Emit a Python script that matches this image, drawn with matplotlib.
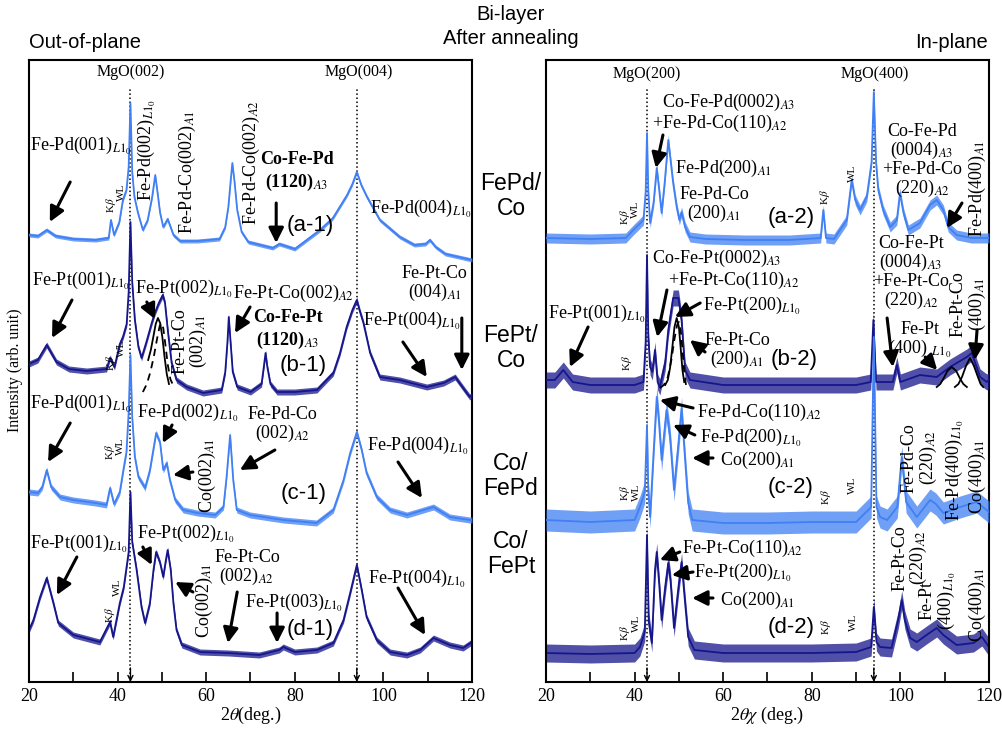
#
# XRD patterns of bi-layer films after annealing
# out-of-plane (left) and in-plane (right)
#

import numpy as np
from matplotlib import pyplot as plt

plt.rcParams['font.family'] = ['Liberation Serif', 'DejaVu Serif']
plt.rcParams['mathtext.fontset'] = 'stix'

LIGHT = '#4080f4'
NAVY = '#16168c'
SANS = ['Liberation Sans', 'DejaVu Sans']

# subscripts
L10 = r'$_{\mathit{L}1_0}$'
A1 = r'$_{\mathit{A}1}$'
A2 = r'$_{\mathit{A}2}$'
A3 = r'$_{\mathit{A}3}$'

# ---- out-of-plane, 2theta (deg.) and intensity (arb. unit, stacked) ----
a1_x = [20, 22, 24, 26, 30, 35, 38.0, 38.5, 39.2, 40.4, 41.2, 42.0, 42.5, 42.9, 43.3,
        43.8, 44.6, 45.7, 46.8, 47.8, 48.5, 49.0, 49.6, 50.3, 51.3, 52.6, 54.1, 58, 63, 64.3,
        65.0, 65.5, 65.9, 66.4, 67.0, 68.0, 69.5, 75, 76.5, 80, 85.7, 88.6, 91.8, 93.0, 94.0,
        95.0, 96.3, 99.2, 103.7, 107, 109.5, 110.5, 111.8, 114, 117, 120]
a1_y = [447, 446, 452, 446, 443, 442, 444, 462, 447, 460, 482, 492, 515, 579, 510,
        485, 469, 452, 462, 485, 507, 490, 469, 455, 463, 447, 441, 441, 443, 455,
        475, 500, 519, 500, 472, 450, 440, 434, 438, 433, 452, 464, 487, 498, 510,
        497, 485, 462, 445, 437, 438, 442, 435, 428, 425, 422]

b1_x = [20, 22, 24, 26.2, 29, 33, 37.5, 38.3, 39.3, 40.5, 41.2, 42.05, 42.5, 42.9, 43.3,
        43.9, 44.7, 45.4, 46.5, 47.7, 48.4, 49.3, 50.2, 50.7, 51.4, 52.2, 53.3, 55.6, 59.3, 63.5,
        64.3, 64.8, 65.1, 65.5, 66.0, 67.0, 70, 72.5, 73.0, 73.4, 73.8, 74.5, 76, 80, 85,
        88.7, 90.2, 91.7, 93.0, 94.0, 94.6, 95.5, 97.0, 99.2, 103.7, 109.8, 113.6, 116.2, 118.0, 119.5,
        120]
b1_y = [318, 322, 337, 320, 313, 311, 313, 324, 315, 338, 345, 358, 390, 460, 400,
        362, 335, 324, 340, 359, 369, 379, 387, 379, 349, 319, 302, 295, 289, 292,
        310, 340, 365, 340, 310, 295, 290, 298, 315, 329, 315, 298, 290, 290, 292,
        309, 329, 355, 372, 382, 372, 359, 329, 305, 302, 295, 299, 305, 294, 285,
        287]

c1_x = [20, 22, 23, 24, 25, 27, 30, 35, 37.5, 38.3, 39.2, 40.5, 41.3, 42.0, 42.5,
        42.9, 43.3, 43.9, 44.7, 46.2, 47.3, 48.7, 49.6, 50.3, 51.1, 51.8, 53.0, 54.8, 58, 62,
        63.9, 64.6, 65.4, 66.1, 66.9, 69.9, 77.4, 84.9, 88.7, 91.0, 92.5, 94.0, 95.1, 96.2, 98.5,
        101.5, 105.3, 111.3, 115.0, 119.5, 120]
c1_y = [190, 189, 195, 212, 195, 185, 182, 179, 177, 194, 178, 190, 212, 230, 270,
        327, 265, 225, 205, 194, 212, 249, 239, 212, 219, 202, 182, 172, 169, 167,
        175, 205, 247, 202, 172, 167, 162, 159, 172, 202, 229, 250, 232, 209, 185,
        172, 167, 175, 165, 162, 162]

d1_x = [20, 21, 22.5, 24.0, 25.5, 26.6, 30, 36, 38.3, 39.0, 40.5, 41.4, 42.5, 42.9, 43.3,
        44.3, 45.4, 46.2, 47.3, 48.1, 48.7, 49.6, 50.3, 50.9, 51.3, 52.0, 52.6, 53.3, 54.5, 58.6,
        65, 72, 76.5, 77.4, 80, 85, 88.7, 91.0, 92.5, 94.0, 95.1, 96.2, 98.5, 101.5, 105.3,
        108.3, 111.3, 115.0, 118.0, 120]
d1_y = [52, 62, 85, 104, 79, 59, 47, 40, 60, 45, 79, 95, 130, 190, 140,
        112, 75, 59, 79, 112, 130, 119, 105, 122, 132, 112, 79, 52, 37, 30,
        29, 27, 32, 35, 30, 32, 39, 62, 89, 117, 92, 65, 42, 30, 27,
        32, 44, 37, 34, 40]

# peak separation of (b-1) near 50 deg.
b1_fit1_x = [46.9, 47.5, 48.1, 48.6, 49.1, 49.6, 50.1, 50.6, 51.1, 51.6]
b1_fit1_y = [322, 332, 346, 358, 364, 359, 345, 325, 308, 298]
b1_fit2_x = [45.7, 46.6, 47.4, 48.2, 48.9, 49.5, 49.9, 50.3, 50.8, 51.3, 51.9, 52.5]
b1_fit2_y = [290, 298, 310, 326, 343, 356, 359, 354, 337, 318, 303, 297]

# ---- in-plane, 2theta-chi (deg.) ----
a2_x = [20, 30, 38, 39.7, 42.0, 42.5, 42.8, 43.1, 43.5, 44.3, 45.0, 45.6, 46.1, 46.8, 47.6,
        48.7, 49.5, 50.1, 50.6, 51.4, 52.5, 56, 65, 75, 82.0, 82.6, 83.2, 85, 87.9, 89.0,
        89.8, 90.9, 92.4, 93.5, 94.0, 94.5, 95.0, 96.1, 97.7, 99.2, 99.9, 100.7, 101.8, 104.4, 106.7,
        108.2, 109.7, 110.8, 112.7, 116, 120]
a2_y = [444, 443, 444, 452, 462, 490, 549, 490, 459, 480, 514, 490, 469, 500, 542,
        499, 475, 462, 470, 455, 445, 443, 442, 442, 444, 472, 444, 443, 462, 502,
        482, 472, 485, 520, 590, 520, 492, 472, 455, 462, 489, 469, 452, 459, 477,
        482, 472, 455, 447, 444, 444]

b2_x = [20, 22, 23.9, 26, 30, 40, 42.0, 42.5, 42.8, 43.1, 43.5, 44.0, 44.6, 45.2, 45.7,
        46.9, 47.6, 48.7, 49.9, 50.6, 51.4, 52.5, 60, 70, 80, 90, 93.3, 93.9, 94.5, 98.3,
        99.2, 100.0, 104.4, 108.2, 111.2, 115.0, 116.1, 118.0, 119.5, 120]
b2_y = [302, 302, 312, 300, 297, 297, 300, 340, 427, 345, 315, 310, 332, 300, 295,
        319, 352, 384, 384, 362, 312, 302, 297, 297, 297, 297, 300, 362, 300, 300,
        317, 300, 307, 305, 315, 325, 329, 305, 300, 302]

c2_x = [20, 30, 40, 41.2, 42.3, 42.8, 43.1, 43.5, 44.4, 45.0, 45.5, 46.1, 47.2, 48.0, 48.9,
        49.9, 50.6, 51.4, 52.1, 53, 60, 70, 80, 90, 93.4, 94.0, 94.6, 95.4, 97, 99.3,
        100.3, 101.3, 103.7, 106.7, 108, 109.7, 113.5, 117.2, 120]
c2_y = [162, 160, 162, 175, 190, 257, 190, 165, 239, 285, 260, 222, 272, 245, 192,
        239, 274, 222, 179, 162, 159, 159, 160, 160, 175, 345, 175, 165, 162, 175,
        225, 180, 165, 182, 178, 169, 175, 180, 170]

d2_x = [20, 30, 40, 41.2, 42.3, 42.8, 43.2, 43.9, 44.6, 45.0, 45.6, 46.1, 46.9, 47.6, 48.1,
        48.9, 49.9, 50.6, 51.4, 52.1, 53.5, 60, 70, 80, 90, 93.4, 94.0, 94.6, 95.4, 98,
        99.5, 100.3, 101.0, 102.2, 103.7, 105.9, 108.2, 109.7, 112.7, 116.5, 118.4, 120]
d2_y = [29, 28, 29, 35, 50, 147, 60, 39, 112, 130, 95, 62, 95, 119, 102,
        54, 95, 120, 79, 45, 32, 29, 29, 29, 30, 35, 75, 40, 35, 34,
        62, 82, 62, 44, 40, 47, 54, 47, 37, 39, 45, 35]

# peak separation of (b-2)
b2_fit1_x = [46.9, 47.5, 48.0, 48.5, 49.0, 49.5, 50.0, 50.4, 50.8, 51.2]
b2_fit1_y = [297, 302, 314, 334, 355, 364, 355, 334, 312, 300]
b2_fit2_x = [45.7, 46.6, 47.5, 48.3, 49.0, 49.6, 50.0, 50.4, 50.8, 51.2, 51.6]
b2_fit2_y = [294, 297, 305, 322, 343, 357, 360, 352, 333, 310, 297]
b2_fit3_x = [108.2, 109.0, 109.8, 110.6, 111.6, 112.6, 113.4, 114.2, 115.0]
b2_fit3_y = [295, 298, 304, 311, 315, 311, 304, 298, 295]
b2_fit4_x = [112.3, 113.1, 113.9, 114.8, 115.7, 116.6, 117.5, 118.1, 118.7]
b2_fit4_y = [295, 298, 305, 316, 324, 316, 305, 298, 295]

# noise half-width of each scan (same units)
noise = {'a1': 2, 'b1': 3, 'c1': 3, 'd1': 3, 'a2': 5, 'b2': 8, 'c2': 11, 'd2': 9}


def curve(ax, x, y, color, key, z):
    x = np.array(x)
    y = np.array(y)
    n = noise[key]
    ax.fill_between(x, y - n, y + n, color=color, alpha=0.75, lw=0, zorder=z)
    ax.plot(x, y, color=color, lw=1.3, zorder=z + 0.1)


def label(ax, s, x, y, ha='center', rot=0, size=13, **kw):
    ax.text(x, y, s, ha=ha, va='center', rotation=rot, fontsize=size,
            zorder=12, **kw)


def arrow(ax, xt, yt, xh, yh):
    ax.annotate('', xy=(xh, yh), xytext=(xt, yt),
                arrowprops=dict(arrowstyle='-|>,head_length=0.6,head_width=0.3',
                                color='k', lw=2.2, shrinkA=0, shrinkB=0,
                                mutation_scale=15), zorder=12)


def mgo_line(ax, x):
    ax.plot([x, x], [0, 595], ls=':', color='k', lw=1.1, zorder=1)
    ax.annotate('', xy=(x, 0), xytext=(x, 14),
                arrowprops=dict(arrowstyle='->', color='k', lw=1.0,
                                mutation_scale=9, shrinkA=0, shrinkB=0))


def frame(ax, xlabel):
    ax.set_xlim(20, 120)
    ax.set_ylim(0, 622)
    ax.set_yticks([])
    ax.set_xticks(range(20, 121, 20))
    ax.set_xticks(range(30, 120, 20), minor=True)
    ax.tick_params(axis='x', which='both', direction='in', length=7, width=1.2,
                   labelsize=13, pad=4)
    for sp in ax.spines.values():
        sp.set_linewidth(1.5)
    ax.set_xlabel(xlabel, fontsize=13, labelpad=0)


fig = plt.figure(figsize=(10.03, 7.29), dpi=100)
ax1 = fig.add_axes([29 / 1003, 47 / 729, 443 / 1003, 622 / 729])
ax2 = fig.add_axes([546 / 1003, 47 / 729, 443 / 1003, 622 / 729])

# ---------------- out-of-plane ----------------
ax = ax1
curve(ax, d1_x, d1_y, NAVY, 'd1', 2)
curve(ax, b1_x, b1_y, NAVY, 'b1', 3)
curve(ax, c1_x, c1_y, LIGHT, 'c1', 4)
curve(ax, a1_x, a1_y, LIGHT, 'a1', 5)
ax.plot(b1_fit1_x, b1_fit1_y, color='k', lw=1.3, zorder=8)
ax.plot(b1_fit2_x, b1_fit2_y, color='k', lw=1.3, ls=(0, (4, 3)), zorder=8)
mgo_line(ax, 42.9)
mgo_line(ax, 94.0)
label(ax, 'MgO(002)', 43.0, 610, size=11.5)
label(ax, 'MgO(004)', 94.5, 610, size=11.5)

# (a-1)
label(ax, 'Fe-Pd(001)' + L10, 20.2, 537, ha='left')
arrow(ax, 29.3, 500, 24.7, 460)
label(ax, r'K$\beta$', 38.5, 477, rot=90, size=8)
label(ax, 'WL', 40.8, 490, rot=90, size=8)
label(ax, 'Fe-Pd(002)' + L10, 46.6, 532, rot=90)
label(ax, 'Fe-Pd-Co(002)' + A1, 55.7, 510, rot=90)
label(ax, 'Fe-Pd-Co(002)' + A2, 70.3, 520, rot=90)
label(ax, 'Co-Fe-Pd\n(1120)' + A3, 80.5, 510, fontweight='bold', linespacing=1.2)
arrow(ax, 75.8, 479, 75.8, 439)
label(ax, '(a-1)', 83.4, 457, size=16, family=SANS)
label(ax, 'Fe-Pd(004)' + L10, 97.0, 474, ha='left')

# (b-1)
label(ax, 'Fe-Pt(001)' + L10, 20.7, 402, ha='left')
arrow(ax, 29.7, 382, 25.2, 344)
label(ax, r'K$\beta$', 38.5, 319, rot=90, size=8)
label(ax, 'WL', 40.8, 334, rot=90, size=8)
label(ax, 'Fe-Pt(002)' + L10, 43.9, 394, ha='left')
arrow(ax, 46.6, 380, 48.4, 363)
label(ax, 'Fe-Pt-Co\n(002)' + A1, 56.4, 341, rot=90, linespacing=0.9)
label(ax, 'Fe-Pt-Co(002)' + A2, 66.0, 389, ha='left')
arrow(ax, 69.9, 375, 66.5, 349)
label(ax, 'Co-Fe-Pt\n(1120)' + A3, 78.5, 352, fontweight='bold', linespacing=1.2)
label(ax, '(b-1)', 81.9, 317, size=16, family=SANS)
label(ax, 'Fe-Pt(004)' + L10, 95.4, 362, ha='left')
arrow(ax, 104.4, 340, 109.8, 305)
label(ax, 'Fe-Pt-Co\n(004)' + A1, 111.6, 398, linespacing=0.95)
arrow(ax, 117.7, 364, 117.7, 312)

# (c-1)
label(ax, 'Fe-Pd(001)' + L10, 20.2, 279, ha='left')
arrow(ax, 29.3, 259, 24.3, 220)
label(ax, r'K$\beta$', 38.3, 230, rot=90, size=8)
label(ax, 'WL', 40.6, 236, rot=90, size=8)
label(ax, 'Fe-Pd(002)' + L10, 44.4, 270, ha='left')
arrow(ax, 52.3, 257, 50.2, 239)
arrow(ax, 57.0, 210, 52.5, 207)
label(ax, 'Co(002)' + A1, 60.2, 207, rot=90)
label(ax, 'Fe-Pd-Co\n(002)' + A2, 77.3, 257, linespacing=1.0)
arrow(ax, 75.5, 232, 67.6, 212)
label(ax, '(c-1)', 81.9, 189, size=16, family=SANS)
label(ax, 'Fe-Pd(004)' + L10, 96.3, 237, ha='left')
arrow(ax, 103.3, 220, 108.7, 184)

# (d-1)
label(ax, 'Fe-Pt(001)' + L10, 20.2, 139, ha='left')
arrow(ax, 30.8, 125, 26.3, 87)
label(ax, r'K$\beta$', 38.3, 67, rot=90, size=8)
label(ax, 'WL', 39.9, 95, rot=90, size=8)
label(ax, 'Fe-Pt(002)' + L10, 44.4, 149, ha='left')
arrow(ax, 45.7, 135, 47.7, 117)
arrow(ax, 57.0, 90, 53.0, 100)
label(ax, 'Co(002)' + A1, 59.7, 82, rot=90)
label(ax, 'Fe-Pt-Co\n(002)' + A2, 69.2, 114, linespacing=1.0)
arrow(ax, 67.0, 90, 64.9, 39)
label(ax, 'Fe-Pt(003)' + L10, 68.8, 80, ha='left')
arrow(ax, 76.0, 69, 76.0, 39)
label(ax, '(d-1)', 83.4, 52, size=16, family=SANS)
label(ax, 'Fe-Pt(004)' + L10, 96.5, 104, ha='left')
arrow(ax, 103.3, 94, 109.4, 47)

frame(ax, r'2$\theta$(deg.)')

# ---------------- in-plane ----------------
ax = ax2
curve(ax, d2_x, d2_y, NAVY, 'd2', 2)
curve(ax, b2_x, b2_y, NAVY, 'b2', 3)
curve(ax, c2_x, c2_y, LIGHT, 'c2', 4)
curve(ax, a2_x, a2_y, LIGHT, 'a2', 5)
ax.plot(b2_fit1_x, b2_fit1_y, color='k', lw=1.3, zorder=8)
ax.plot(b2_fit2_x, b2_fit2_y, color='k', lw=1.3, ls=(0, (4, 3)), zorder=8)
ax.plot(b2_fit3_x, b2_fit3_y, color='k', lw=1.3, zorder=8)
ax.plot(b2_fit4_x, b2_fit4_y, color='k', lw=1.3, zorder=8)
mgo_line(ax, 42.8)
mgo_line(ax, 94.0)
label(ax, 'MgO(200)', 42.8, 608, size=11.5)
label(ax, 'MgO(400)', 94.3, 608, size=11.5)

# (a-2)
label(ax, 'Co-Fe-Pd(0002)' + A3, 46.2, 580, ha='left')
label(ax, '+Fe-Pd-Co(110)' + A2, 43.9, 559, ha='left')
arrow(ax, 46.4, 547, 44.8, 514)
label(ax, 'Fe-Pd(200)' + A1, 49.1, 514, ha='left')
label(ax, 'Fe-Pd-Co\n(200)' + A1, 57.9, 477, linespacing=1.0)
label(ax, r'K$\beta$', 37.9, 465, rot=90, size=8)
label(ax, 'WL', 40.3, 473, rot=90, size=8)
label(ax, '(a-2)', 75.3, 464, size=16, family=SANS)
label(ax, r'K$\beta$', 83.0, 485, rot=90, size=8)
label(ax, 'WL', 89.1, 509, rot=90, size=8)
label(ax, 'Co-Fe-Pd\n(0004)' + A3 + '\n+Fe-Pd-Co\n(220)' + A2, 104.9, 521,
      linespacing=1.0)
label(ax, 'Fe-Pd(400)' + A1, 117.3, 494, rot=90)
arrow(ax, 113.9, 479, 110.5, 454)

# (b-2)
label(ax, 'Fe-Pt(001)' + L10, 20.5, 369, ha='left')
arrow(ax, 29.5, 355, 25.4, 315)
label(ax, r'K$\beta$', 38.3, 319, rot=90, size=8)
label(ax, 'Co-Fe-Pt(0002)' + A3, 43.9, 424, ha='left')
label(ax, '+Fe-Pt-Co(110)' + A2, 47.5, 402, ha='left')
arrow(ax, 47.3, 392, 45.1, 345)
label(ax, 'Fe-Pt(200)' + L10, 55.4, 377, ha='left')
arrow(ax, 54.8, 379, 49.1, 365)
label(ax, 'Fe-Pt-Co\n(200)' + A1, 63.2, 331, linespacing=1.0)
arrow(ax, 55.9, 330, 52.5, 342)
label(ax, '(b-2)', 75.9, 322, size=16, family=SANS)
label(ax, 'Co-Fe-Pt\n(0004)' + A3 + '\n+Fe-Pt-Co\n(220)' + A2, 102.4, 409,
      linespacing=1.0)
arrow(ax, 97.0, 364, 98.3, 315)
label(ax, 'Fe-Pt\n(400) ' + L10, 104.4, 342, linespacing=1.0)
arrow(ax, 105.6, 325, 108.3, 312)
label(ax, 'Fe-Pt-Co\n(400)' + A1, 115.5, 378, rot=90, linespacing=1.0)
arrow(ax, 117.3, 352, 116.8, 322)

# (c-2)
label(ax, 'Fe-Pd-Co(110)' + A2, 54.1, 270, ha='left')
arrow(ax, 53.2, 274, 45.7, 282)
label(ax, 'Fe-Pd(200)' + L10, 54.8, 245, ha='left')
arrow(ax, 53.6, 247, 48.7, 257)
label(ax, 'Co(200)' + A1, 59.3, 222, ha='left')
arrow(ax, 57.7, 224, 53.0, 224)
label(ax, r'K$\beta$', 37.9, 189, rot=90, size=8)
label(ax, 'WL', 40.4, 190, rot=90, size=8)
label(ax, '(c-2)', 75.3, 195, size=16, family=SANS)
label(ax, r'K$\beta$', 83.2, 185, rot=90, size=8)
label(ax, 'WL', 89.1, 197, rot=90, size=8)
label(ax, 'Fe-Pd-Co\n(220)' + A2, 104.4, 224, rot=90, linespacing=1.0)
label(ax, 'Fe-Pd(400)' + L10, 112.1, 212, rot=90)
label(ax, 'Co(400)' + A1, 117.3, 206, rot=90)

# (d-2)
label(ax, 'Fe-Pt-Co(110)' + A2, 50.7, 134, ha='left')
arrow(ax, 50.2, 130, 45.7, 122)
label(ax, 'Fe-Pt(200)' + L10, 53.4, 110, ha='left')
arrow(ax, 53.2, 110, 48.4, 107)
label(ax, 'Co(200)' + A1, 59.3, 82, ha='left')
arrow(ax, 57.7, 84, 53.0, 84)
label(ax, r'K$\beta$', 37.9, 49, rot=90, size=8)
label(ax, 'WL', 40.5, 59, rot=90, size=8)
label(ax, '(d-2)', 75.3, 55, size=16, family=SANS)
label(ax, r'K$\beta$', 83.2, 55, rot=90, size=8)
label(ax, 'WL', 89.5, 60, rot=90, size=8)
label(ax, 'Fe-Pt-Co\n(220)' + A2, 102.2, 124, rot=90, linespacing=1.0)
label(ax, 'Fe-Pt\n(400)' + L10, 108.5, 82, rot=90, linespacing=1.0)
label(ax, 'Co(400)' + A1, 117.3, 78, rot=90)

frame(ax, r'2$\theta\chi$ (deg.)')

# ---------------- figure texts ----------------
fig.text(29 / 1003, 1 - 42 / 729, 'Out-of-plane', ha='left', va='center',
         fontsize=14.5, family=SANS)
fig.text(988 / 1003, 1 - 42 / 729, 'In-plane', ha='right', va='center',
         fontsize=14.5, family=SANS)
fig.text(511 / 1003, 1 - 14 / 729, 'Bi-layer', ha='center', va='center',
         fontsize=14.5, family=SANS)
fig.text(511 / 1003, 1 - 38 / 729, 'After annealing', ha='center', va='center',
         fontsize=14.5, family=SANS)
fig.text(15 / 1003, 1 - 370 / 729, 'Intensity (arb. unit)', rotation=90,
         ha='center', va='center', fontsize=11.5)

samples = ['FePd/\nCo', 'FePt/\nCo', 'Co/\nFePd', 'Co/\nFePt']
sample_y = [196, 348, 476, 554]
for s, yy in zip(samples, sample_y):
    fig.text(511 / 1003, 1 - yy / 729, s, ha='center', va='center',
             fontsize=16.5, family=SANS, multialignment='center', linespacing=1.15)

plt.savefig('out.png', dpi=100)
